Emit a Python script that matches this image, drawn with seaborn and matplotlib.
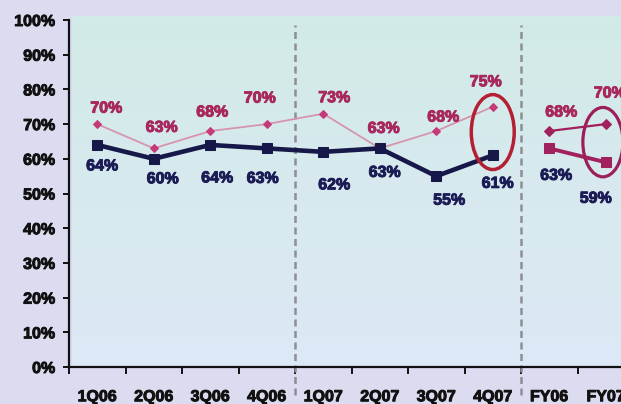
import numpy as np
import pandas as pd
import matplotlib
matplotlib.use("Agg")
import matplotlib.pyplot as plt
import matplotlib.patheffects as pe
from matplotlib.patches import Ellipse
from matplotlib.colors import LinearSegmentedColormap
import seaborn as sns

# Quarterly and full-year values (%)
quarters = ["1Q06", "2Q06", "3Q06", "4Q06", "1Q07", "2Q07", "3Q07", "4Q07"]
upper_q = [70, 63, 68, 70, 73, 63, 68, 75]
lower_q = [64, 60, 64, 63, 62, 63, 55, 61]
years = ["FY06", "FY07"]
upper_fy = [68, 70]
lower_fy = [63, 59]
y_ticks = [0, 10, 20, 30, 40, 50, 60, 70, 80, 90, 100]

# Label placement nudges (pixels) for each value label
upper_off = [(9, 16), (8, 21), (2, 19), (-7, 26), (11, 16), (4, 20), (7, 14), (-7, 25), (12, 19), (4, 31)]
lower_off = [(5, -21), (9, -20), (7, -33), (-4, -30), (11, -33), (5, -24), (13, -24), (5, -28), (7, -27), (-10, -36)]

NAVY = "#16184a"
PINK_LINE = "#d595ae"
PINK_MK = "#c53a78"
MAGENTA = "#a0215e"
LBL_PINK = "#a8285e"
LBL_NAVY = "#1b1c55"

sns.set_theme(style="white")
plt.rcParams["font.family"] = ["Liberation Sans", "DejaVu Sans"]
plt.rcParams["font.weight"] = "bold"


def heavy(color):
    # slightly thicker glyph strokes for the bold labels
    return [pe.withStroke(linewidth=0.7, foreground=color)]


fig = plt.figure(figsize=(6.21, 4.04), dpi=100, facecolor="#dcdcf1")
ax = fig.add_axes([69 / 621, 37 / 404, (634 - 69) / 621, 347 / 404])
ax.set_facecolor("none")

# soft mint-to-blue backdrop of the plotting area
grad = LinearSegmentedColormap.from_list("bg", ["#dde8f6", "#d2ebe7"])
ax.imshow(np.linspace(0, 1, 256).reshape(-1, 1), cmap=grad, origin="lower",
          extent=[0.005, 1, 0, 1.01], transform=ax.transAxes, aspect="auto",
          zorder=0, clip_on=False)

nq = len(quarters)
xq = np.arange(nq)
xf = nq + np.arange(len(years))
dq = pd.DataFrame({"x": xq, "upper": upper_q, "lower": lower_q})
df = pd.DataFrame({"x": xf, "upper": upper_fy, "lower": lower_fy})

sns.lineplot(data=dq, x="x", y="upper", color=PINK_LINE, linewidth=1.3,
             marker="D", markersize=4.5, markerfacecolor=PINK_MK,
             markeredgecolor=PINK_MK, ax=ax, zorder=3)
sns.lineplot(data=dq, x="x", y="lower", color=NAVY, linewidth=3.3,
             marker="s", markersize=6.5, markerfacecolor=NAVY,
             markeredgecolor=NAVY, ax=ax, zorder=4)
sns.lineplot(data=df, x="x", y="upper", color=MAGENTA, linewidth=1.6,
             marker="D", markersize=5, markerfacecolor=MAGENTA,
             markeredgecolor=MAGENTA, ax=ax, zorder=3)
sns.lineplot(data=df, x="x", y="lower", color=MAGENTA, linewidth=2.8,
             marker="s", markersize=7, markerfacecolor=MAGENTA,
             markeredgecolor=MAGENTA, ax=ax, zorder=4)

all_x = list(xq) + list(xf)
all_up = upper_q + upper_fy
all_lo = lower_q + lower_fy
for i, (x, u, l) in enumerate(zip(all_x, all_up, all_lo)):
    ax.annotate(f"{u}%", (x, u), xytext=upper_off[i], textcoords="offset pixels",
                ha="center", va="center", color=LBL_PINK, fontsize=11.5,
                fontweight="bold", zorder=6, annotation_clip=False,
                path_effects=heavy(LBL_PINK))
    ax.annotate(f"{l}%", (x, l), xytext=lower_off[i], textcoords="offset pixels",
                ha="center", va="center", color=LBL_NAVY, fontsize=11.5,
                fontweight="bold", zorder=6, annotation_clip=False,
                path_effects=heavy(LBL_NAVY))

# period separators
for xs in (3.5, 7.5):
    ax.axvline(xs, ymin=-0.08, ymax=0.985, color="#8e8e96", linewidth=1.8,
               linestyle=(0, (2.8, 1.8)), clip_on=False, zorder=2)

# highlight rings
ax.add_patch(Ellipse((7, 67.7), width=0.76, height=21.6, fill=False,
                     edgecolor="#b41f33", linewidth=2.5, zorder=5))
ax.add_patch(Ellipse((8.95, 64.8), width=0.71, height=20, fill=False,
                     edgecolor="#9c1f5c", linewidth=2.3, zorder=5))

ax.set_xlim(-0.5, len(all_x) - 0.5)
ax.set_ylim(0, 100)
ax.set_yticks(y_ticks)
ax.set_yticklabels([f"{t}%" for t in y_ticks])
ax.set_xticks(all_x)
ax.set_xticklabels(quarters + years)
ax.set_xticks(np.arange(-0.5, len(all_x), 1.0), minor=True)
ax.set_xlabel("")
ax.set_ylabel("")

for s in ("top", "right"):
    ax.spines[s].set_visible(False)
for s in ("left", "bottom"):
    ax.spines[s].set_color("#111111")
    ax.spines[s].set_linewidth(1.6)
    ax.spines[s].set_zorder(5)

ax.tick_params(axis="y", which="major", direction="out", length=4, width=1.4,
               color="#111111", pad=6, labelsize=11.5, labelcolor="#111111", left=True)
ax.tick_params(axis="x", which="major", length=0, pad=16, labelsize=11.5,
               labelcolor="#111111", bottom=True)
ax.tick_params(axis="x", which="minor", direction="out", length=5, width=1.4,
               color="#111111", bottom=True)
for lab in ax.get_xticklabels() + ax.get_yticklabels():
    lab.set_fontweight("bold")
    lab.set_path_effects(heavy("#111111"))

fig.savefig("out.png", dpi=100, facecolor=fig.get_facecolor())
